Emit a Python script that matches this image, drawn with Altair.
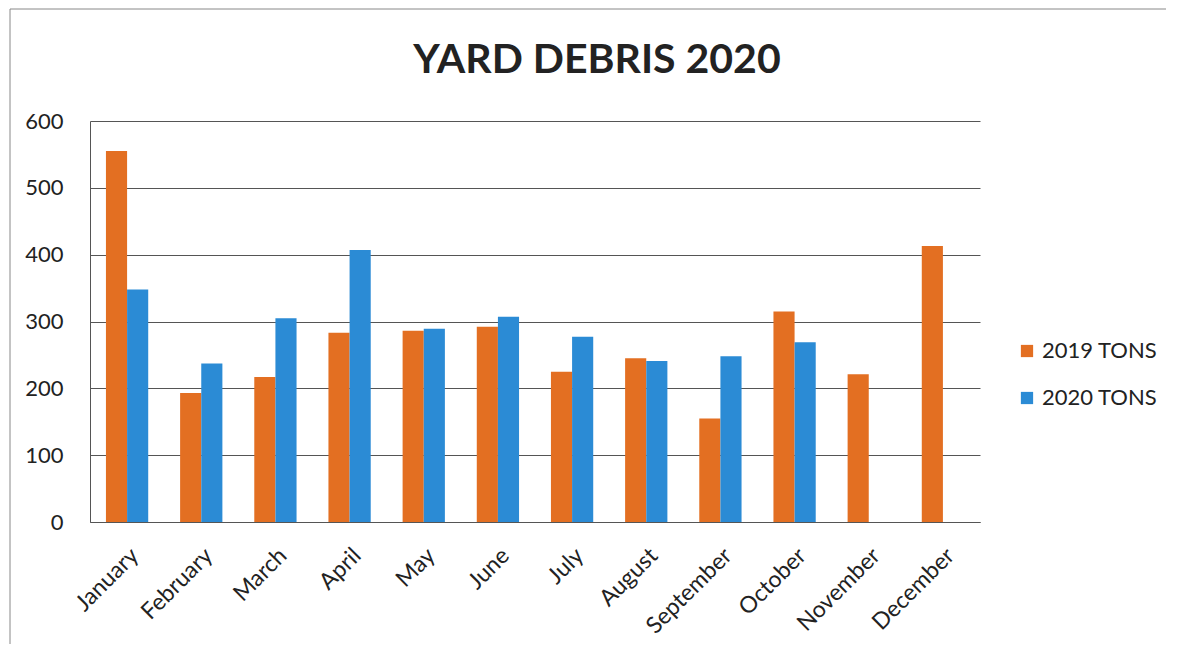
import altair as alt
import pandas as pd

months = ["January", "February", "March", "April", "May", "June", "July",
          "August", "September", "October", "November", "December"]
tons_2019 = [555, 193, 217, 283, 286, 292, 225, 245, 155, 315, 221, 413]
tons_2020 = [348, 237, 305, 407, 289, 307, 277, 241, 248, 269, None, None]
series = ["2019 TONS", "2020 TONS"]
colors = ["#E36F22", "#2B8BD5"]
y_ticks = [0, 100, 200, 300, 400, 500, 600]

rows = []
for m, a, b in zip(months, tons_2019, tons_2020):
    rows.append({"month": m, "series": series[0], "tons": a})
    if b is not None:
        rows.append({"month": m, "series": series[1], "tons": b})
df = pd.DataFrame(rows)

FONT = "Lato"

bars = alt.Chart(df).mark_bar().encode(
    x=alt.X("month:N", sort=months,
            scale=alt.Scale(paddingInner=0.43, paddingOuter=0.215),
            axis=alt.Axis(title=None, labelAngle=-45, labelAlign="right",
                          labelBaseline="top", labelFontSize=23,
                          labelFont=FONT, labelColor="#222", labelPadding=22,
                          ticks=False, domainColor="#555", labelOverlap=False)),
    xOffset=alt.XOffset("series:N", sort=series),
    y=alt.Y("tons:Q", scale=alt.Scale(domain=[0, 600], nice=False),
            axis=alt.Axis(title=None, values=y_ticks, labelFontSize=22,
                          labelFont=FONT, labelColor="#222",
                          labelPadding=27, ticks=False, domainColor="#555",
                          gridColor="#555", gridWidth=1)),
    color=alt.Color("series:N", sort=series,
                    scale=alt.Scale(domain=series, range=colors),
                    legend=alt.Legend(title=None, orient="none", legendX=926,
                                      legendY=219, symbolType="square",
                                      symbolSize=150, labelFontSize=22,
                                      labelFont=FONT, labelColor="#222",
                                      rowPadding=25, labelOffset=4,
                                      symbolStrokeWidth=0)),
)

frame_df = pd.DataFrame({"a": [0]})
top_edge = alt.Chart(frame_df).mark_rule(color="#888", strokeWidth=1, clip=False).encode(
    x=alt.value(-80), x2=alt.value(1085), y=alt.value(-112))
left_edge = alt.Chart(frame_df).mark_rule(color="#888", strokeWidth=1, clip=False).encode(
    x=alt.value(-80), y=alt.value(-112), y2=alt.value(523))

chart = alt.layer(top_edge, left_edge, bars).properties(
    width=890, height=401,
    title=alt.TitleParams("YARD DEBRIS 2020", font=FONT, fontSize=41,
                          fontWeight="bold", color="#222", offset=-73, dx=62),
    padding={"left": 82, "top": 113, "right": 186, "bottom": 130},
    autosize=alt.AutoSizeParams(type="none"),
).configure_view(stroke=None)

chart.save("out.html", embed_options={"renderer": "svg", "actions": False})
